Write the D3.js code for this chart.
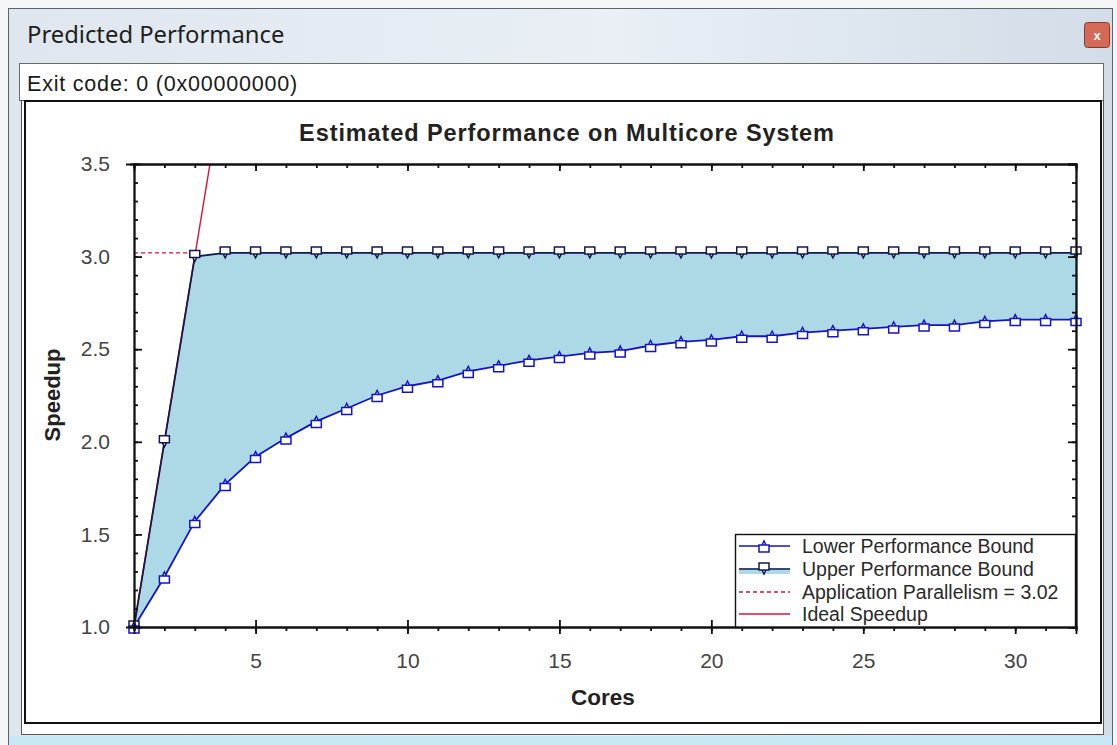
<!DOCTYPE html>
<html>
<head>
<meta charset="utf-8">
<script src="https://cdn.jsdelivr.net/npm/d3@7"></script>
<style>
  html, body { margin: 0; padding: 0; background: #ffffff; }
  svg { display: block; }
</style>
</head>
<body>
<svg id="chart" width="1117" height="745"></svg>
<script>
// ---------- data ----------
const cores = [1,2,3,4,5,6,7,8,9,10,11,12,13,14,15,16,17,18,19,20,21,22,23,24,25,26,27,28,29,30,31,32];
const lowerBound = [1.00,1.27,1.57,1.77,1.92,2.02,2.11,2.18,2.25,2.30,2.33,2.38,2.41,2.44,2.46,2.48,
                    2.49,2.52,2.54,2.55,2.57,2.57,2.59,2.60,2.61,2.62,2.63,2.63,2.65,2.66,2.66,2.66];
const upperBound = [1.00,2.00,3.00,3.02,3.02,3.02,3.02,3.02,3.02,3.02,3.02,3.02,3.02,3.02,3.02,3.02,
                    3.02,3.02,3.02,3.02,3.02,3.02,3.02,3.02,3.02,3.02,3.02,3.02,3.02,3.02,3.02,3.02];
const parallelism = 3.02;
const idealX = [1, 3.6];
const xMajorTicks = [5,10,15,20,25,30];
const yMajorTicks = [1.0,1.5,2.0,2.5,3.0,3.5];
const legendLabels = ["Lower Performance Bound","Upper Performance Bound","Application Parallelism = 3.02","Ideal Speedup"];
const windowTitle = "Predicted Performance";
const exitText = "Exit code: 0 (0x00000000)";
const chartTitle = "Estimated Performance on Multicore System";
const xTitle = "Cores";
const yTitle = "Speedup";

// ---------- drawing ----------
const svg = d3.select("#chart");
const defs = svg.append("defs");

// window chrome
const tg = defs.append("linearGradient").attr("id","tbar").attr("x1",0).attr("x2",1).attr("y1",0).attr("y2",0);
tg.append("stop").attr("offset","0%").attr("stop-color","#dfe6ee");
tg.append("stop").attr("offset","55%").attr("stop-color","#e9eff5");
tg.append("stop").attr("offset","100%").attr("stop-color","#d3dde8");
svg.append("rect").attr("x",0).attr("y",0).attr("width",1117).attr("height",745).attr("fill","#f4f6f8");
svg.append("rect").attr("x",8.5).attr("y",8.5).attr("width",1104).attr("height",745).attr("fill","url(#tbar)").attr("stroke","#5a6470").attr("stroke-width",1);
svg.append("rect").attr("x",9).attr("y",736).attr("width",1103).attr("height",9).attr("fill","#c9e8f5");
svg.append("text").attr("x",27).attr("y",43).attr("font-family","'Noto Sans', 'Open Sans', sans-serif")
  .attr("font-size",23.8).attr("fill","#1e1e1e").text(windowTitle);
// close button
const cb = svg.append("g");
cb.append("rect").attr("x",1084.5).attr("y",22.5).attr("width",25).attr("height",25).attr("rx",3)
  .attr("fill","#d46a55").attr("stroke","#8a3a30");
cb.append("text").attr("x",1097).attr("y",40).attr("text-anchor","middle")
  .attr("font-family","'Liberation Sans', Arial, sans-serif").attr("font-weight","bold")
  .attr("font-size",13).attr("fill","#ffffff").text("x");

// exit code box
svg.append("rect").attr("x",19.5).attr("y",63.5).attr("width",1084).attr("height",37).attr("fill","#ffffff").attr("stroke","#6a6a6a");
svg.append("text").attr("x",27).attr("y",91).attr("font-family","'Liberation Sans', Arial, sans-serif")
  .attr("font-size",21.5).attr("letter-spacing",0.8).attr("fill","#1a1a1a").text(exitText);

// chart panel
svg.append("rect").attr("x",21.5).attr("y",100.5).attr("width",1082).attr("height",634).attr("fill","#ffffff").attr("stroke","#555");
svg.append("rect").attr("x",25).attr("y",101).attr("width",1076).attr("height",622).attr("fill","#ffffff").attr("stroke","#111").attr("stroke-width",2);

// scales
const x = d3.scaleLinear().domain([1,32]).range([134,1076]);
const y = d3.scaleLinear().domain([1,3.5]).range([627,164]);

defs.append("clipPath").attr("id","plotclip").append("rect")
  .attr("x",134).attr("y",164).attr("width",1076-134).attr("height",627-164);

const plot = svg.append("g").attr("clip-path","url(#plotclip)");

// fill between bounds
const area = d3.area().x((d,i)=>x(cores[i])).y0((d,i)=>y(lowerBound[i])).y1((d,i)=>y(upperBound[i]));
plot.append("path").datum(cores).attr("d",area).attr("fill","#add8e6");

// ideal speedup
plot.append("path").datum(idealX)
  .attr("d", d3.line().x(d=>x(d)).y(d=>y(d)))
  .attr("fill","none").attr("stroke","#e0103a").attr("stroke-width",1.4);

// application parallelism
plot.append("path").datum([1, parallelism])
  .attr("d", d3.line().x(d=>x(d)).y(()=>y(parallelism)))
  .attr("fill","none").attr("stroke","#e0103a").attr("stroke-width",1.4).attr("stroke-dasharray","4,3");

// lines
const upColor = "#141850", loColor = "#1414c8";
plot.append("path").datum(cores)
  .attr("d", d3.line().x((d,i)=>x(cores[i])).y((d,i)=>y(upperBound[i])))
  .attr("fill","none").attr("stroke",upColor).attr("stroke-width",1.8);
plot.append("path").datum(cores)
  .attr("d", d3.line().x((d,i)=>x(cores[i])).y((d,i)=>y(lowerBound[i])))
  .attr("fill","none").attr("stroke",loColor).attr("stroke-width",1.8);

// markers
const lowerMarker = "M-5,-1 L5,-1 L5,6 L-5,6 Z M-2,-1 L0,-5 L2,-1";
const upperMarker = "M-5,-6 L5,-6 L5,1 L-5,1 Z M-2,1 L0,5 L2,1";
svg.append("g").selectAll("path").data(cores).join("path")
  .attr("transform",(d,i)=>`translate(${x(d)},${y(upperBound[i])})`)
  .attr("d",upperMarker).attr("fill","#ffffff").attr("stroke",upColor).attr("stroke-width",1.5);
svg.append("g").selectAll("path").data(cores).join("path")
  .attr("transform",(d,i)=>`translate(${x(d)},${y(lowerBound[i])})`)
  .attr("d",lowerMarker).attr("fill","#ffffff").attr("stroke",loColor).attr("stroke-width",1.5);

// axes
const font = "'Liberation Sans', Arial, sans-serif";
function styleAxis(g){
  g.select(".domain").attr("stroke","#111").attr("stroke-width",1.8);
  g.selectAll(".tick line").attr("stroke","#111").attr("stroke-width",1.8);
  g.selectAll("text").attr("font-family",font).attr("font-size",21).attr("fill","#444");
}
const xMinor = d3.range(1,33);
const yMinor = d3.range(10,36).map(v=>v/10);

// bottom
const gbMin = svg.append("g").attr("transform","translate(0,627)")
  .call(d3.axisBottom(x).tickValues(xMinor).tickSize(4).tickFormat(""));
styleAxis(gbMin);
const gb = svg.append("g").attr("transform","translate(0,627)")
  .call(d3.axisBottom(x).tickValues(xMajorTicks).tickSize(7).tickPadding(19).tickFormat(d3.format("d")));
styleAxis(gb); gb.selectAll(".tick line").attr("y1",-7);
// top
const gtMin = svg.append("g").attr("transform","translate(0,164)")
  .call(d3.axisBottom(x).tickValues(xMinor).tickSize(4).tickFormat(""));
styleAxis(gtMin);
const gt = svg.append("g").attr("transform","translate(0,164)")
  .call(d3.axisBottom(x).tickValues(xMajorTicks).tickSize(7).tickFormat(""));
styleAxis(gt);
// left
const glMin = svg.append("g").attr("transform","translate(134,0)")
  .call(d3.axisLeft(y).tickValues(yMinor).tickSize(4).tickFormat(""));
styleAxis(glMin); glMin.selectAll(".tick line").attr("x2",4);
const gl = svg.append("g").attr("transform","translate(134,0)")
  .call(d3.axisLeft(y).tickValues(yMajorTicks).tickSize(8).tickPadding(16).tickFormat(d3.format(".1f")));
styleAxis(gl); gl.selectAll(".tick line").attr("x2",8);
// right
const grMin = svg.append("g").attr("transform","translate(1076,0)")
  .call(d3.axisLeft(y).tickValues(yMinor).tickSize(4).tickFormat(""));
styleAxis(grMin);
const gr = svg.append("g").attr("transform","translate(1076,0)")
  .call(d3.axisLeft(y).tickValues(yMajorTicks).tickSize(8).tickFormat(""));
styleAxis(gr);

// titles
svg.append("text").attr("x",567).attr("y",141).attr("text-anchor","middle")
  .attr("font-family",font).attr("font-weight","bold").attr("font-size",23.5).attr("letter-spacing",0.9)
  .attr("fill","#222").text(chartTitle);
svg.append("text").attr("x",603).attr("y",705).attr("text-anchor","middle")
  .attr("font-family",font).attr("font-weight","bold").attr("font-size",22.5).attr("fill","#222").text(xTitle);
svg.append("text").attr("transform","translate(60,395) rotate(-90)").attr("text-anchor","middle")
  .attr("font-family",font).attr("font-weight","bold").attr("font-size",22).attr("fill","#222").text(yTitle);

// legend
const lg = svg.append("g");
lg.append("rect").attr("x",735.5).attr("y",534.5).attr("width",340).attr("height",92.5)
  .attr("fill","#ffffff").attr("stroke","#111").attr("stroke-width",1.4);
const rowY = [546,569,592,614];
const ly = d3.scaleOrdinal().domain(legendLabels).range(rowY);
legendLabels.forEach((lab,i)=>{
  const yy = ly(lab);
  if(i===1){
    lg.append("rect").attr("x",739).attr("y",yy-1).attr("width",51).attr("height",6).attr("fill","#add8e6");
  }
  const col = i===0 ? loColor : i===1 ? upColor : "#e0103a";
  lg.append("line").attr("x1",739).attr("x2",790).attr("y1",yy).attr("y2",yy)
    .attr("stroke",col).attr("stroke-width",1.5).attr("stroke-dasharray", i===2 ? "4,3" : null);
  if(i===0) lg.append("path").attr("transform",`translate(764,${yy})`).attr("d",lowerMarker)
    .attr("fill","#fff").attr("stroke",loColor).attr("stroke-width",1.5);
  if(i===1) lg.append("path").attr("transform",`translate(764,${yy})`).attr("d",upperMarker)
    .attr("fill","#fff").attr("stroke",upColor).attr("stroke-width",1.5);
  lg.append("text").attr("x",802).attr("y",yy+7).attr("font-family",font).attr("font-size",19.5)
    .attr("fill","#2a2a2a").text(lab);
});
</script>
</body>
</html>
